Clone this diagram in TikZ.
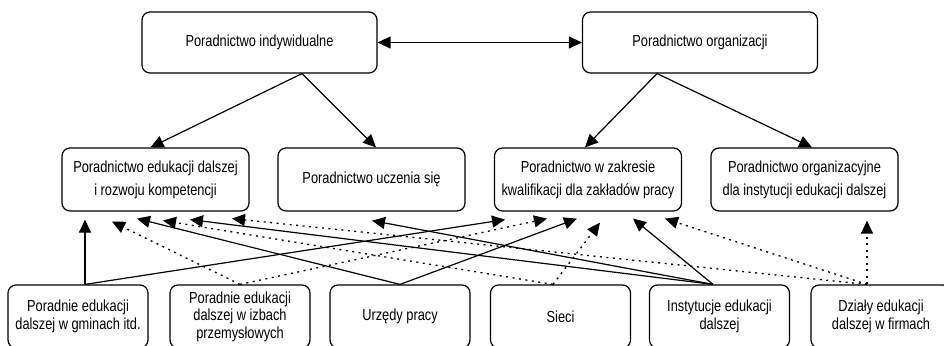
\documentclass[tikz,border=0pt]{standalone}
\usepackage{fontspec}
\setmainfont{Liberation Sans}[FakeStretch=0.8]
\usetikzlibrary{arrows.meta,calc}
\begin{document}
\begin{tikzpicture}[x=1pt,y=-1pt,
  box/.style={draw,line width=1.2pt,rounded corners=8pt,align=center,inner sep=2pt},
  topbox/.style={box,minimum width=235pt,minimum height=61pt,font=\fontsize{16}{22}\selectfont},
  midbox/.style={box,minimum width=187pt,minimum height=63pt,font=\fontsize{16}{23}\selectfont},
  botbox/.style={box,minimum width=140pt,minimum height=63pt,font=\fontsize{16}{17.5}\selectfont},
  tip/.tip={Triangle[length=13pt,width=12pt]},
  conn/.style={line width=1.2pt,-tip},
  dotconn/.style={line width=1.3pt,-tip,dash pattern=on 2pt off 4.5pt}]
\useasboundingbox (0,0) rectangle (944,345);
\clip (0,0) rectangle (944,345);
\node[topbox] (P1) at (259.5,42.5) {Poradnictwo indywidualne};
\node[topbox] (P2) at (700,42.5) {Poradnictwo organizacji};
\node[midbox] (A) at (155.5,179.5) {Poradnictwo edukacji dalszej\\i rozwoju kompetencji};
\node[midbox] (B) at (371.5,179.5) {Poradnictwo uczenia się};
\node[midbox] (C) at (588,179.5) {Poradnictwo w zakresie\\kwalifikacji dla zakładów pracy};
\node[midbox] (D) at (804.5,179.5) {Poradnictwo organizacyjne\\dla instytucji edukacji dalszej};
\node[botbox] (E) at (78,316.5) {Poradnie edukacji\\dalszej w gminach itd.};
\node[botbox] (F) at (240,316.5) {Poradnie edukacji\\dalszej w izbach\\przemysłowych};
\node[botbox] (G) at (400,316.5) {Urzędy pracy};
\node[botbox] (H) at (560.5,316.5) {Sieci};
\node[botbox] (I) at (719.5,316.5) {Instytucje edukacji\\dalszej};
\node[botbox] (J) at (881,316.5) {Działy edukacji\\dalszej w firmach};
% top level
\draw[line width=1.2pt,tip-tip] (P1.east) -- (P2.west);
\draw[conn] ($(P1.south)+(42.5,0)$) -- ($(A.north)+(-5,0)$);
\draw[conn] ($(P1.south)+(42.5,0)$) -- ($(B.north)+(4.5,0)$);
\draw[conn] ($(P2.south)+(-43,0)$) -- ($(C.north)+(-3,0)$);
\draw[conn] ($(P2.south)+(-43,0)$) -- ($(D.north)+(7.5,0)$);
% bottom to middle
\draw[conn] ($(E.north)+(7,0)$) -- ($(A.south)+(-70.5,8)$);
\draw[dotconn] (F.north) -- ($(A.south)+(-43.5,10)$);
\draw[conn] (G.north) -- ($(A.south)+(-18.5,7)$);
\draw[dotconn] ($(H.north)+(-7.5,0)$) -- ($(A.south)+(7.5,9)$);
\draw[conn] ($(I.north)+(-6.5,0)$) -- ($(A.south)+(34.5,8)$);
\draw[dotconn] ($(J.north)+(-14,0)$) -- ($(A.south)+(76.5,7)$);
\draw[conn] ($(I.north)+(-6.5,0)$) -- ($(B.south)+(0.5,9)$);
\draw[conn] ($(E.north)+(7,0)$) -- ($(C.south)+(-83,8)$);
\draw[dotconn] (F.north) -- ($(C.south)+(-41,7)$);
\draw[conn] (G.north) -- ($(C.south)+(-11,7)$);
\draw[dotconn] ($(H.north)+(-7.5,0)$) -- ($(C.south)+(12,11)$);
\draw[conn] ($(I.north)+(-6.5,0)$) -- ($(C.south)+(45,7)$);
\draw[dotconn] ($(J.north)+(-14,0)$) -- ($(C.south)+(77,7)$);
\draw[dotconn] ($(J.north)+(-14,0)$) -- ($(D.south)+(62.5,9)$);
\end{tikzpicture}
\end{document}
